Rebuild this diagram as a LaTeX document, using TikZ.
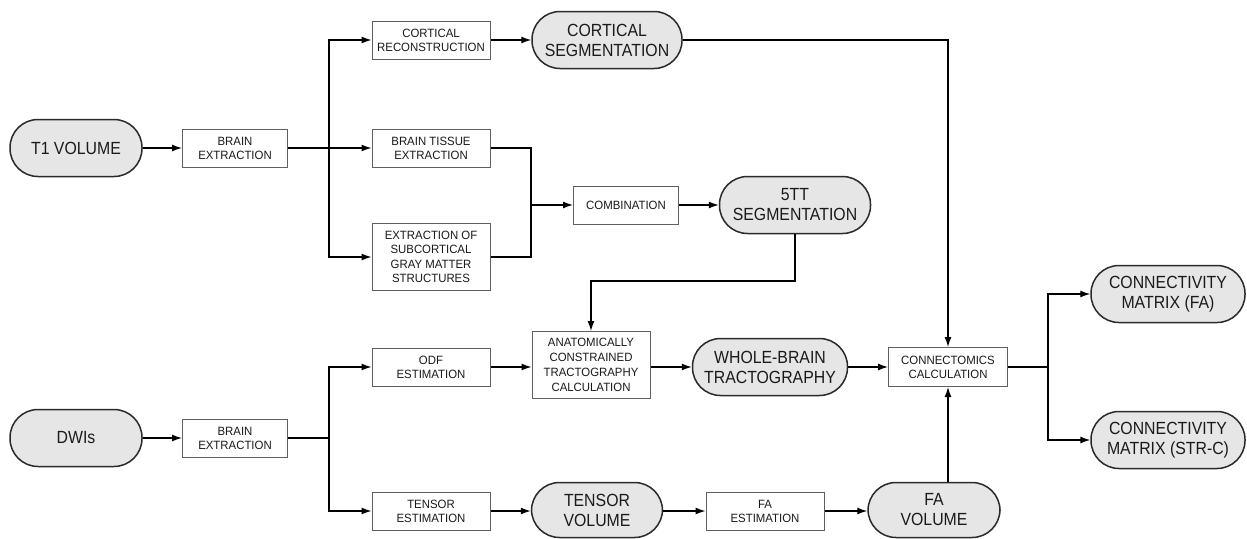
\documentclass[tikz,border=0pt]{standalone}
\usepackage{fontspec}
\setmainfont{Liberation Sans}
\newfontfamily\pillfont[FakeStretch=0.9]{Liberation Sans}
\newfontfamily\procfont[FakeStretch=0.95]{Liberation Sans}
\usetikzlibrary{arrows.meta}
\definecolor{pillfill}{HTML}{E6E6E6}
\definecolor{boxline}{HTML}{606060}
\definecolor{pillline}{HTML}{2A2A2A}
\definecolor{txt}{HTML}{1A1A1A}
\begin{document}
\begin{tikzpicture}[x=1pt,y=-1pt,
  pill/.style={draw=pillline, line width=1.5pt, fill=pillfill, rounded corners=28pt,
    minimum height=57pt, align=center, inner sep=0pt, text=txt,
    font=\pillfont\fontsize{17.6}{20}\selectfont},
  proc/.style={draw=boxline, line width=1pt, fill=white, align=center, inner sep=0pt,
    minimum height=38pt, minimum width=118pt, text=txt,
    font=\procfont\fontsize{12}{14}\selectfont},
  conn/.style={draw=black, line width=1.3pt},
  arr/.style={conn, -{Latex[length=10pt,width=7pt]}}
]
\useasboundingbox (0,0) rectangle (1247,538);
% row: T1
\node[pill, minimum width=132pt] (t1) at (76,148) {T1 VOLUME};
\node[proc, minimum width=105pt] (be1) at (235,148) {BRAIN\\EXTRACTION};
\coordinate (br1) at (329,148);
\node[proc] (cr) at (431,40) {CORTICAL\\RECONSTRUCTION};
\node[proc] (bt) at (431,148) {BRAIN TISSUE\\EXTRACTION};
\node[proc, minimum height=67pt, font=\procfont\fontsize{12}{14.5}\selectfont] (sc) at (431,257) {EXTRACTION OF\\SUBCORTICAL\\GRAY MATTER\\STRUCTURES};
\node[pill, minimum width=150pt] (cs) at (607,40) {CORTICAL\\SEGMENTATION};
\coordinate (m1) at (531,205);
\node[proc, minimum width=105pt] (comb) at (626,205) {COMBINATION};
\node[pill, minimum width=151pt] (tt) at (795,205) {5TT\\SEGMENTATION};
\coordinate (k1) at (591,281);
% row: DWI
\node[pill, minimum width=132pt] (dwi) at (76,438) {DWIs};
\node[proc, minimum width=105pt] (be2) at (235,438) {BRAIN\\EXTRACTION};
\coordinate (br2) at (329,438);
\node[proc] (odf) at (431,367) {ODF\\ESTIMATION};
\node[proc] (te) at (431,511) {TENSOR\\ESTIMATION};
\node[proc, minimum height=67pt, font=\procfont\fontsize{12}{15}\selectfont] (act) at (591,365) {ANATOMICALLY\\CONSTRAINED\\TRACTOGRAPHY\\CALCULATION};
\node[pill, minimum width=155pt] (wb) at (770,367) {WHOLE-BRAIN\\TRACTOGRAPHY};
\node[pill, minimum width=131pt, minimum height=55pt] (tv) at (597,510) {TENSOR\\VOLUME};
\node[proc] (fae) at (765,511) {FA\\ESTIMATION};
\node[pill, minimum width=132pt, minimum height=55pt] (fav) at (934,510) {FA\\VOLUME};
\node[proc, minimum width=119pt, minimum height=39pt] (cc) at (948,367) {CONNECTOMICS\\CALCULATION};
\coordinate (br3) at (1048,367);
\node[pill, minimum width=154pt] (cm1) at (1168,294) {CONNECTIVITY\\MATRIX (FA)};
\node[pill, minimum width=154pt] (cm2) at (1168,440) {CONNECTIVITY\\MATRIX (STR-C)};
% connectors
\draw[arr] (t1) -- (be1);
\draw[conn] (be1.east) -- (br1);
\draw[arr] (br1) |- (cr.west);
\draw[arr] (br1) -- (bt.west);
\draw[arr] (br1) |- (sc.west);
\draw[arr] (cr) -- (cs);
\draw[arr] (cs.east) -| (cc.north);
\draw[conn] (bt.east) -| (m1);
\draw[conn] (sc.east) -| (m1);
\draw[arr] (m1) -- (comb.west);
\draw[arr] (comb) -- (tt);
\draw[arr] (tt.south) |- (k1) -- (act.north);
\draw[arr] (dwi) -- (be2);
\draw[conn] (be2.east) -- (br2);
\draw[arr] (br2) |- (odf.west);
\draw[arr] (br2) |- (te.west);
\draw[arr] (odf.east) -- (odf.east -| act.west);
\draw[arr] (act.east |- wb.west) -- (wb.west);
\draw[arr] (wb) -- (cc);
\draw[arr] (te.east) -- (te.east -| tv.west);
\draw[arr] (tv.east |- fae.west) -- (fae.west);
\draw[arr] (fae.east) -- (fae.east -| fav.west);
\draw[arr] (fav.north -| cc.south) -- (cc.south);
\draw[conn] (cc.east) -- (br3);
\draw[arr] (br3) |- (cm1.west);
\draw[arr] (br3) |- (cm2.west);
\end{tikzpicture}
\end{document}
